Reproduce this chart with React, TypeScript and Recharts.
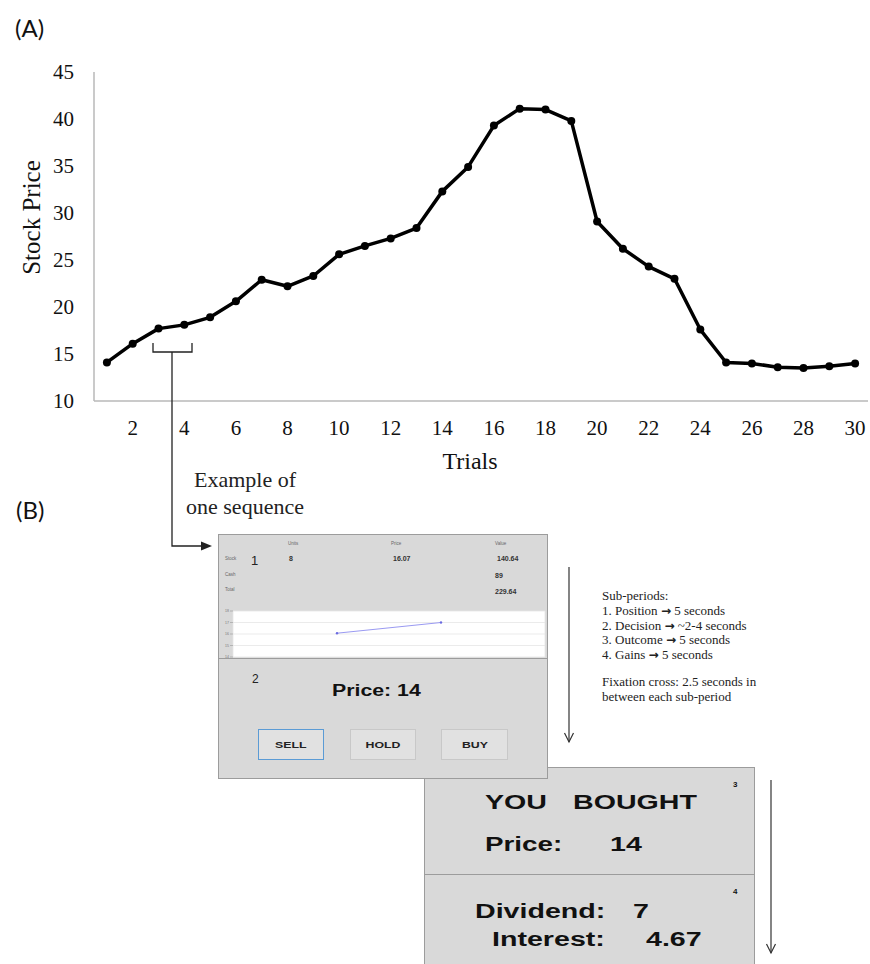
import React from 'react';
import { LineChart, Line, XAxis, YAxis, CartesianGrid, Label } from 'recharts';

// ---------- Panel A data ----------
const trials = [1, 2, 3, 4, 5, 6, 7, 8, 9, 10, 11, 12, 13, 14, 15, 16, 17, 18, 19, 20, 21, 22, 23, 24, 25, 26, 27, 28, 29, 30];
const prices = [14.1, 16.1, 17.7, 18.1, 18.9, 20.6, 22.9, 22.2, 23.3, 25.6, 26.5, 27.3, 28.4, 32.3, 34.9, 39.3, 41.1, 41.0, 39.8, 29.1, 26.2, 24.3, 23.0, 17.6, 14.1, 14.0, 13.6, 13.5, 13.7, 14.0];
const xTickLabels = [2, 4, 6, 8, 10, 12, 14, 16, 18, 20, 22, 24, 26, 28, 30];
const yTickLabels = [10, 15, 20, 25, 30, 35, 40, 45];

// ---------- mini chart inside screen 1 ----------
const miniSteps = [1, 2];
const miniPrices = [16.07, 17.0];
const miniXTicks = [0, 1, 2, 3];
const miniYTicks = [14, 15, 16, 17, 18];

const data = trials.map((t, i) => ({ trial: t, price: prices[i] }));
const miniData = miniSteps.map((s, i) => ({ step: s, price: miniPrices[i] }));

const SERIF = '"Liberation Serif", "Times New Roman", serif';
const SANS = '"Liberation Sans", Arial, sans-serif';
const CAL = 'Lato, "Open Sans", sans-serif';

type TxtProps = {
  x: number; y: number; size: number; family?: string; weight?: number;
  sx?: number; color?: string; children: React.ReactNode;
};
function Txt({ x, y, size, family = SANS, weight = 400, sx = 1, color = '#111', children }: TxtProps) {
  return (
    <div
      style={{
        position: 'absolute', left: x, top: y, fontSize: size, fontFamily: family,
        fontWeight: weight, color, lineHeight: 1, whiteSpace: 'pre',
        transform: `translateY(-50%) scaleX(${sx})`, transformOrigin: 'left center',
      }}
    >
      {children}
    </div>
  );
}

function Panel({ x, y, w, h }: { x: number; y: number; w: number; h: number }) {
  return (
    <div
      style={{
        position: 'absolute', left: x, top: y, width: w, height: h,
        background: '#d9d9d9', border: '1.5px solid #9c9c9c', boxSizing: 'border-box',
      }}
    />
  );
}

function Btn({ x, y, w, h, label, active }: { x: number; y: number; w: number; h: number; label: string; active?: boolean }) {
  return (
    <div
      style={{
        position: 'absolute', left: x, top: y, width: w, height: h, boxSizing: 'border-box',
        background: '#e1e1e1', border: active ? '1.5px solid #5b9bd5' : '1.5px solid #c8c8c8',
        display: 'flex', alignItems: 'center', justifyContent: 'center',
      }}
    >
      <span style={{ fontFamily: SANS, fontWeight: 700, fontSize: 8.5, color: '#222', transform: 'scaleX(1.45)', display: 'inline-block' }}>
        {label}
      </span>
    </div>
  );
}

const YTitle = (props: any) => {
  const vb = props.viewBox || { x: 0, y: 72, width: 94, height: 329 };
  const cx = vb.x + 31;
  const cy = vb.y + vb.height / 2 - 19;
  return (
    <text x={cx} y={cy} transform={`rotate(-90 ${cx} ${cy})`} textAnchor="middle" dominantBaseline="central"
      fontSize={25} fontFamily={SERIF} fill="#111">
      Stock Price
    </text>
  );
};

const XTitle = (props: any) => {
  const vb = props.viewBox || { x: 94, y: 401, width: 774, height: 30 };
  const cx = vb.x + vb.width / 2 - 11;
  return (
    <text x={cx} y={vb.y + 68} textAnchor="middle" fontSize={24} fontFamily={SERIF} fill="#111">
      Trials
    </text>
  );
};

const Arrow = () => <b style={{ fontFamily: '"DejaVu Sans", sans-serif', fontSize: 12 }}>→</b>;

export default function App() {
  return (
    <div style={{ position: 'absolute', left: 0, top: 0, width: 870, height: 964, background: '#fff', overflow: 'hidden' }}>
      {/* Panel A chart */}
      <div style={{ position: 'absolute', left: 0, top: 0 }}>
        <LineChart width={870} height={480} data={data} margin={{ top: 72, right: 2, bottom: 49, left: 0 }}>
          <XAxis
            dataKey="trial" type="category" scale="band" ticks={xTickLabels} interval={0}
            tickLine={false} tickSize={0} tickMargin={19} height={30}
            axisLine={{ stroke: '#b8b8b8', strokeWidth: 1.5 }}
            tick={{ fill: '#111', fontSize: 21, fontFamily: SERIF }}
          >
            <Label content={XTitle} />
          </XAxis>
          <YAxis
            type="number" domain={[10, 45]} ticks={yTickLabels} interval={0} width={94}
            tickLine={false} tickSize={0} tickMargin={20}
            axisLine={{ stroke: '#b8b8b8', strokeWidth: 1.5 }}
            tick={{ fill: '#111', fontSize: 21, fontFamily: SERIF }}
          >
            <Label content={YTitle} />
          </YAxis>
          <Line
            type="linear" dataKey="price" stroke="#000" strokeWidth={3.5} strokeLinejoin="round"
            dot={{ r: 4, fill: '#000', stroke: '#000', strokeWidth: 0 }} isAnimationActive={false}
          />
        </LineChart>
      </div>

      <Txt x={15} y={28} size={24} family={CAL} color="#111">(A)</Txt>
      <Txt x={16} y={510} size={24} family={CAL} color="#111">(B)</Txt>

      <div style={{ position: 'absolute', left: 185, top: 466, width: 120, textAlign: 'center', fontFamily: SERIF, fontSize: 22, lineHeight: '27px', color: '#222' }}>
        Example of<br />one sequence
      </div>

      {/* Screen 3/4 (behind) */}
      <Panel x={424} y={767} w={331} h={108} />
      <Panel x={424} y={874} w={331} h={100} />
      <Txt x={733} y={785} size={8} weight={700}>3</Txt>
      <Txt x={485} y={802} size={20} weight={700} sx={1.43}>YOU</Txt>
      <Txt x={573} y={802} size={20} weight={700} sx={1.43}>BOUGHT</Txt>
      <Txt x={485} y={844} size={20} weight={700} sx={1.39}>Price:</Txt>
      <Txt x={610} y={844} size={20} weight={700} sx={1.43}>14</Txt>
      <Txt x={733} y={892} size={8} weight={700}>4</Txt>
      <Txt x={475} y={911} size={20} weight={700} sx={1.43}>Dividend:</Txt>
      <Txt x={633} y={911} size={20} weight={700} sx={1.43}>7</Txt>
      <Txt x={492} y={939} size={20} weight={700} sx={1.43}>Interest:</Txt>
      <Txt x={646} y={939} size={20} weight={700} sx={1.43}>4.67</Txt>

      {/* Screen 1/2 (front) */}
      <Panel x={218} y={534} w={330} h={126} />
      <Panel x={218} y={658} w={330} h={121} />
      <div style={{ position: 'absolute', left: 219, top: 608 }}>
        <LineChart width={329} height={52} data={miniData} margin={{ top: 3, right: 3, bottom: 3, left: 0 }}>
          <CartesianGrid fill="#ffffff" stroke="#e6e6e6" strokeWidth={0.8} />
          <XAxis type="number" dataKey="step" domain={[0, 3]} ticks={miniXTicks} height={0} tick={false} axisLine={false} tickLine={false} />
          <YAxis type="number" domain={[14, 18]} ticks={miniYTicks} interval={0} width={14}
            tick={{ fontSize: 3.5, fill: '#777', fontFamily: SANS }} tickSize={3} tickMargin={1}
            tickLine={{ stroke: '#999', strokeWidth: 0.6 }} axisLine={false} />
          <Line type="linear" dataKey="price" stroke="#9a9af2" strokeWidth={1}
            dot={{ r: 1.2, fill: '#6a6ae0', stroke: 'none' }} isAnimationActive={false} />
        </LineChart>
      </div>

      <Txt x={288} y={544} size={4.5} color="#666">Units</Txt>
      <Txt x={391} y={544} size={4.5} color="#666">Price</Txt>
      <Txt x={495} y={544} size={4.5} color="#666">Value</Txt>
      <Txt x={225} y={559} size={4.5} color="#666">Stock</Txt>
      <Txt x={225} y={575} size={4.5} color="#666">Cash</Txt>
      <Txt x={225} y={590} size={4.5} color="#666">Total</Txt>
      <Txt x={251} y={560} size={13} color="#222">1</Txt>
      <Txt x={289} y={558} size={7} weight={700} color="#333">8</Txt>
      <Txt x={393} y={558} size={7} weight={700} color="#333">16.07</Txt>
      <Txt x={497} y={558} size={7} weight={700} color="#333">140.64</Txt>
      <Txt x={495} y={575} size={7} weight={700} color="#333">89</Txt>
      <Txt x={495} y={591} size={7} weight={700} color="#333">229.64</Txt>

      <Txt x={252} y={679} size={12} color="#222">2</Txt>
      <Txt x={332} y={691} size={16} weight={700} sx={1.33}>Price: 14</Txt>
      <Btn x={258} y={729} w={66} h={31} label="SELL" active />
      <Btn x={350} y={729} w={66} h={31} label="HOLD" />
      <Btn x={441} y={729} w={67} h={31} label="BUY" />

      {/* Sub-period notes */}
      <div style={{ position: 'absolute', left: 602, top: 589, fontFamily: SERIF, fontSize: 13, lineHeight: '14.8px', color: '#222', whiteSpace: 'pre' }}>
        <div>Sub-periods:</div>
        <div>1. Position <Arrow /> 5 seconds</div>
        <div>2. Decision <Arrow /> ~2-4 seconds</div>
        <div>3. Outcome <Arrow /> 5 seconds</div>
        <div>4. Gains <Arrow /> 5 seconds</div>
      </div>
      <div style={{ position: 'absolute', left: 602, top: 675, fontFamily: SERIF, fontSize: 13, lineHeight: '14.8px', color: '#222', whiteSpace: 'pre' }}>
        <div>Fixation cross: 2.5 seconds in</div>
        <div>between each sub-period</div>
      </div>

      {/* connectors and arrows */}
      <svg width={870} height={964} style={{ position: 'absolute', left: 0, top: 0, pointerEvents: 'none' }}>
        <polyline points="153,343 153,352 192,352 192,343" fill="none" stroke="#222" strokeWidth={1.3} />
        <polyline points="172,352 172,546 203,546" fill="none" stroke="#222" strokeWidth={1.3} />
        <polygon points="212,546 201,541.5 201,550.5" fill="#222" />
        <line x1={569} y1={567} x2={569} y2={742} stroke="#333" strokeWidth={1.2} />
        <polyline points="564.5,733 569,742 573.5,733" fill="none" stroke="#333" strokeWidth={1.2} />
        <line x1={771} y1={780} x2={771} y2={953} stroke="#333" strokeWidth={1.2} />
        <polyline points="766.5,944 771,953 775.5,944" fill="none" stroke="#333" strokeWidth={1.2} />
      </svg>
    </div>
  );
}
